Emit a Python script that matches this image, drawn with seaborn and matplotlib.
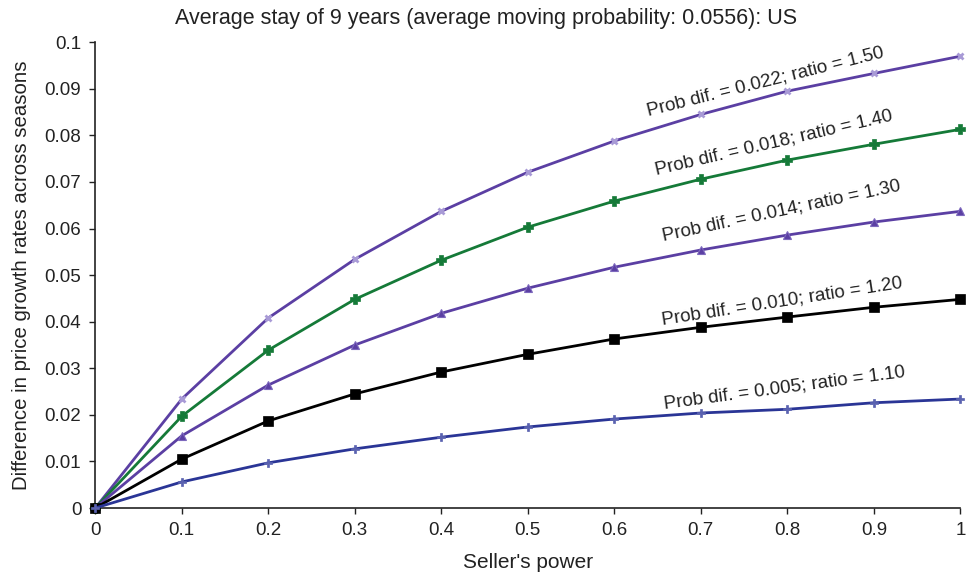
import numpy as np
import pandas as pd
import matplotlib
matplotlib.use("Agg")
import matplotlib.pyplot as plt
import seaborn as sns

sellers_power = [0.0, 0.1, 0.2, 0.3, 0.4, 0.5, 0.6, 0.7, 0.8, 0.9, 1.0]
ratio_150 = [0.0, 0.0234, 0.0408, 0.0534, 0.0637, 0.0721, 0.0788, 0.0845, 0.0895, 0.0933, 0.0970]
ratio_140 = [0.0, 0.0197, 0.0339, 0.0448, 0.0532, 0.0603, 0.0659, 0.0706, 0.0747, 0.0781, 0.0813]
ratio_130 = [0.0, 0.0155, 0.0264, 0.0350, 0.0418, 0.0472, 0.0517, 0.0554, 0.0586, 0.0614, 0.0637]
ratio_120 = [0.0, 0.0105, 0.0187, 0.0245, 0.0292, 0.0330, 0.0363, 0.0388, 0.0410, 0.0431, 0.0448]
ratio_110 = [0.0, 0.0056, 0.0097, 0.0127, 0.0152, 0.0174, 0.0191, 0.0204, 0.0212, 0.0226, 0.0234]
series_labels = ["Prob dif. = 0.022; ratio = 1.50",
                 "Prob dif. = 0.018; ratio = 1.40",
                 "Prob dif. = 0.014; ratio = 1.30",
                 "Prob dif. = 0.010; ratio = 1.20",
                 "Prob dif. = 0.005; ratio = 1.10"]
x_ticks = [0, 0.1, 0.2, 0.3, 0.4, 0.5, 0.6, 0.7, 0.8, 0.9, 1]
x_tick_labels = ["0", "0.1", "0.2", "0.3", "0.4", "0.5", "0.6", "0.7", "0.8", "0.9", "1"]
y_ticks = [0, 0.01, 0.02, 0.03, 0.04, 0.05, 0.06, 0.07, 0.08, 0.09, 0.1]
y_tick_labels = ["0", "0.01", "0.02", "0.03", "0.04", "0.05", "0.06", "0.07", "0.08", "0.09", "0.1"]

sns.set_style("ticks")
plt.rcParams['font.family'] = ['Liberation Sans', 'DejaVu Sans']

all_vals = [ratio_150, ratio_140, ratio_130, ratio_120, ratio_110]
frames = []
for lab, vals in zip(series_labels, all_vals):
    frames.append(pd.DataFrame({"x": sellers_power, "y": vals, "series": lab}))
df = pd.concat(frames, ignore_index=True)

styles = [
    dict(color="#5b3fa3", marker="x", mfc="#a89ad6", mec="#a89ad6", ms=5, mew=2.0),
    dict(color="#157a38", marker="P", mfc="#157a38", mec="#157a38", ms=6.5, mew=0.5),
    dict(color="#5b3fa3", marker="^", mfc="#5b3fa3", mec="#7d68bd", ms=6, mew=0.8),
    dict(color="#000000", marker="s", mfc="#000000", mec="#000000", ms=6.5, mew=0.5),
    dict(color="#2a3596", marker="P", mfc="#5a62b0", mec="#5a62b0", ms=6, mew=0.5),
]
label_pos = [(0.775, 0.0916, 14.0), (0.785, 0.0783, 13.0), (0.793, 0.0637, 12.0),
             (0.794, 0.0444, 8.8), (0.797, 0.0258, 7.6)]

fig = plt.figure(figsize=(9.72, 5.75), dpi=100)
ax = fig.add_axes([0.098, 0.1165, 0.89, 0.81])

for lab, st in zip(series_labels, styles):
    sub = df[df["series"] == lab]
    sns.lineplot(data=sub, x="x", y="y", ax=ax, color=st["color"], linewidth=2,
                 marker=st["marker"], markersize=st["ms"], markerfacecolor=st["mfc"],
                 markeredgecolor=st["mec"], markeredgewidth=st["mew"], legend=False,
                 clip_on=False, zorder=3)

for lab, (lx, ly, ang) in zip(series_labels, label_pos):
    ax.text(lx, ly, lab, rotation=ang, ha="center", va="center", fontsize=13.6,
            color="#222222", rotation_mode="anchor")

ax.set_xlim(0, 1)
ax.set_ylim(0, 0.1)
ax.set_xticks(x_ticks)
ax.set_xticklabels(x_tick_labels)
ax.set_yticks(y_ticks)
ax.set_yticklabels(y_tick_labels)
ax.tick_params(labelsize=13.5, colors="#222222", length=4, width=1, direction="out", pad=6)
for sp in ["top", "right"]:
    ax.spines[sp].set_visible(False)
for sp in ["left", "bottom"]:
    ax.spines[sp].set_color("#222222")
    ax.spines[sp].set_linewidth(1.2)
ax.set_xlabel("Seller's power", fontsize=15, color="#222222", labelpad=10)
ax.set_ylabel("Difference in price growth rates across seasons", fontsize=14.7, color="#222222", labelpad=10)
fig.text(0.5, 0.968, "Average stay of 9 years (average moving probability: 0.0556): US",
         ha="center", va="center", fontsize=15.5, color="#222222")

fig.savefig("out.png", dpi=100)
